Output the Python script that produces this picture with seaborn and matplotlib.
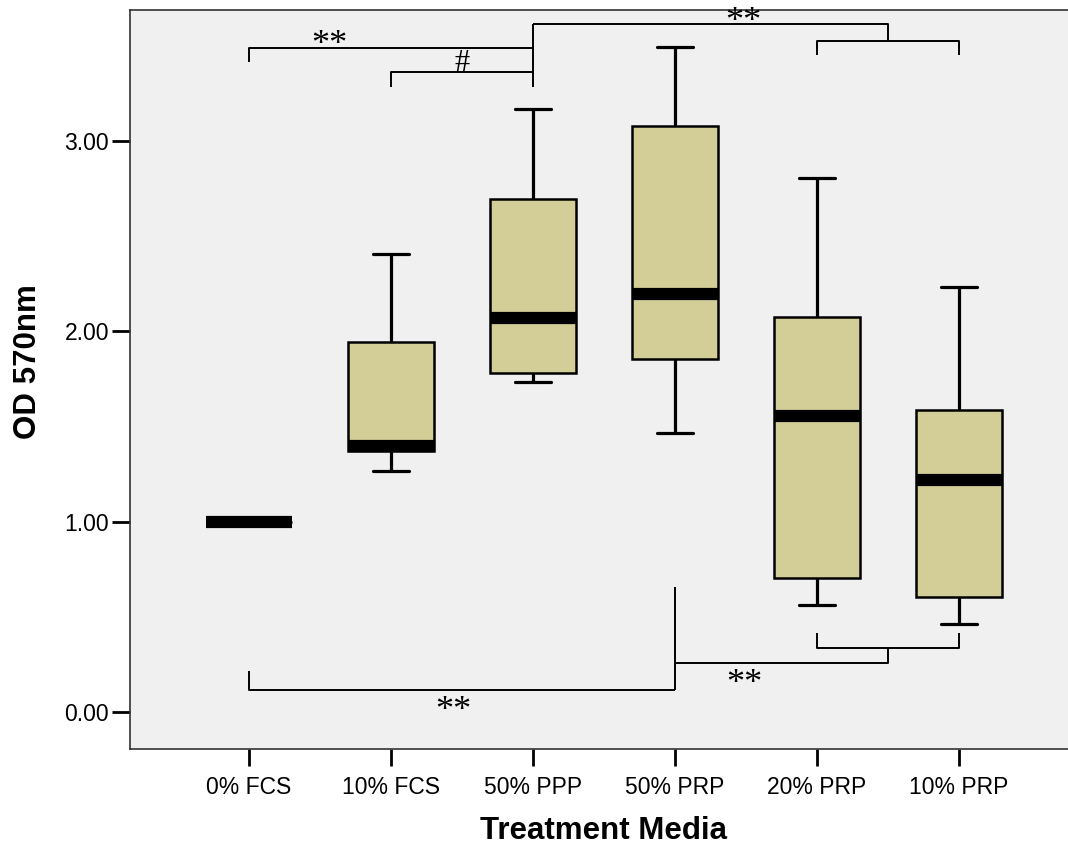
import numpy as np
import pandas as pd
import matplotlib
matplotlib.use("Agg")
import matplotlib.pyplot as plt
from matplotlib.ticker import FormatStrFormatter
import seaborn as sns

# ---- data (five-number summaries: min, Q1, median, Q3, max) ----
media = ["0% FCS", "10% FCS", "50% PPP", "50% PRP", "20% PRP", "10% PRP"]
fcs0 = [1.00, 1.00, 1.00, 1.00, 1.00]
fcs10 = [1.263, 1.369, 1.396, 1.943, 2.405]
ppp50 = [1.733, 1.782, 2.071, 2.693, 3.166]
prp50 = [1.464, 1.856, 2.194, 3.080, 3.496]
prp20 = [0.563, 0.701, 1.557, 2.075, 2.806]
prp10 = [0.463, 0.605, 1.219, 1.584, 2.235]
yticks = [0.0, 1.0, 2.0, 3.0]

series = [fcs0, fcs10, ppp50, prp50, prp20, prp10]
df = pd.DataFrame({
    "Treatment Media": np.repeat(media, [len(s) for s in series]),
    "OD 570nm": np.concatenate(series),
})

sns.set_style("white")
plt.rcParams["font.family"] = ["Liberation Sans", "DejaVu Sans"]
plt.rcParams["text.color"] = "black"
plt.rcParams["axes.labelcolor"] = "black"
plt.rcParams["xtick.color"] = "black"
plt.rcParams["ytick.color"] = "black"
plt.rcParams["xtick.labelcolor"] = "black"
plt.rcParams["ytick.labelcolor"] = "black"

fig = plt.figure(figsize=(10.68, 8.47), dpi=100)
ax = fig.add_axes([130 / 1068, (847 - 749.3) / 847, 948 / 1068, 739.3 / 847])
ax.set_facecolor("#F0F0F0")

sns.boxplot(
    data=df, x="Treatment Media", y="OD 570nm", order=media, ax=ax,
    color="#D3CE97", saturation=1, width=0.6, whis=(0, 100),
    linecolor="black", linewidth=1.8,
    medianprops=dict(color="black", linewidth=8.8, solid_capstyle="butt"),
    whiskerprops=dict(color="black", linewidth=2.3),
    capprops=dict(color="black", linewidth=2.3),
)

# narrower caps, as in the reference
for ln in ax.lines:
    xd = np.asarray(ln.get_xdata(), dtype=float)
    yd = np.asarray(ln.get_ydata(), dtype=float)
    if len(xd) == 2 and np.isclose(yd[0], yd[1]):
        ext = abs(xd[1] - xd[0])
        if 0 < ext < 0.5:
            c = xd.mean()
            ln.set_xdata([c - 0.127, c + 0.127])

ax.set_xlim(-0.838, 5.838)
ax.set_ylim(-0.197, 3.688)
ax.set_yticks(yticks)
ax.yaxis.set_major_formatter(FormatStrFormatter("%.2f"))

for s in ["top", "left", "bottom"]:
    ax.spines[s].set_visible(True)
    ax.spines[s].set_color("#333333")
    ax.spines[s].set_linewidth(1.2)
ax.spines["right"].set_visible(False)

ax.tick_params(axis="x", direction="out", length=12.5, width=2.0, color="black",
               labelcolor="black", pad=7, labelsize=16.5, bottom=True)
ax.tick_params(axis="y", direction="out", length=13, width=2.0, color="black",
               labelcolor="black", pad=2, labelsize=16.5, left=True)

ax.set_xlabel("Treatment Media", fontsize=22.5, fontweight="bold", va="center",
              color="black")
ax.set_ylabel("OD 570nm", fontsize=22.5, fontweight="bold", va="center",
              color="black")
ax.xaxis.set_label_coords(0.499, -0.110)
ax.yaxis.set_label_coords(-0.1075, 0.525)

# ---- significance brackets ----
blw = 1.4
def seg(xs, ys):
    ax.plot(xs, ys, color="black", lw=blw, solid_capstyle="butt", zorder=5)

star_font = dict(family=["Liberation Serif", "DejaVu Serif"], fontsize=26,
                 ha="center", va="center", color="black", zorder=6)
hash_font = dict(star_font, fontsize=22)

# top: 0% FCS vs 50% PPP (**)
seg([0, 0, 2], [3.417, 3.490, 3.490])
ax.text(0.563, 3.500, "**", **star_font)
# top: 10% FCS vs 50% PPP (#)
seg([1, 1, 2], [3.282, 3.363, 3.363])
ax.text(1.5, 3.405, "#", **hash_font)
# top: 50% PPP vs (20% PRP, 10% PRP) (**)
seg([2, 2], [3.282, 3.615])
seg([2, 4.5, 4.5], [3.615, 3.615, 3.527])
seg([4, 4, 5, 5], [3.452, 3.527, 3.527, 3.452])
ax.text(3.479, 3.620, "**", **star_font)

# bottom: 0% FCS vs 50% PRP (**)
seg([0, 0, 3], [0.215, 0.115, 0.115])
seg([3, 3], [0.115, 0.655])
ax.text(1.44, 0.000, "**", **star_font)
# bottom: 50% PRP vs (20% PRP, 10% PRP) (**)
seg([3, 4.5, 4.5], [0.255, 0.255, 0.334])
seg([4, 4, 5, 5], [0.416, 0.334, 0.334, 0.416])
ax.text(3.49, 0.143, "**", **star_font)

fig.savefig("out.png", dpi=100, facecolor="white")
